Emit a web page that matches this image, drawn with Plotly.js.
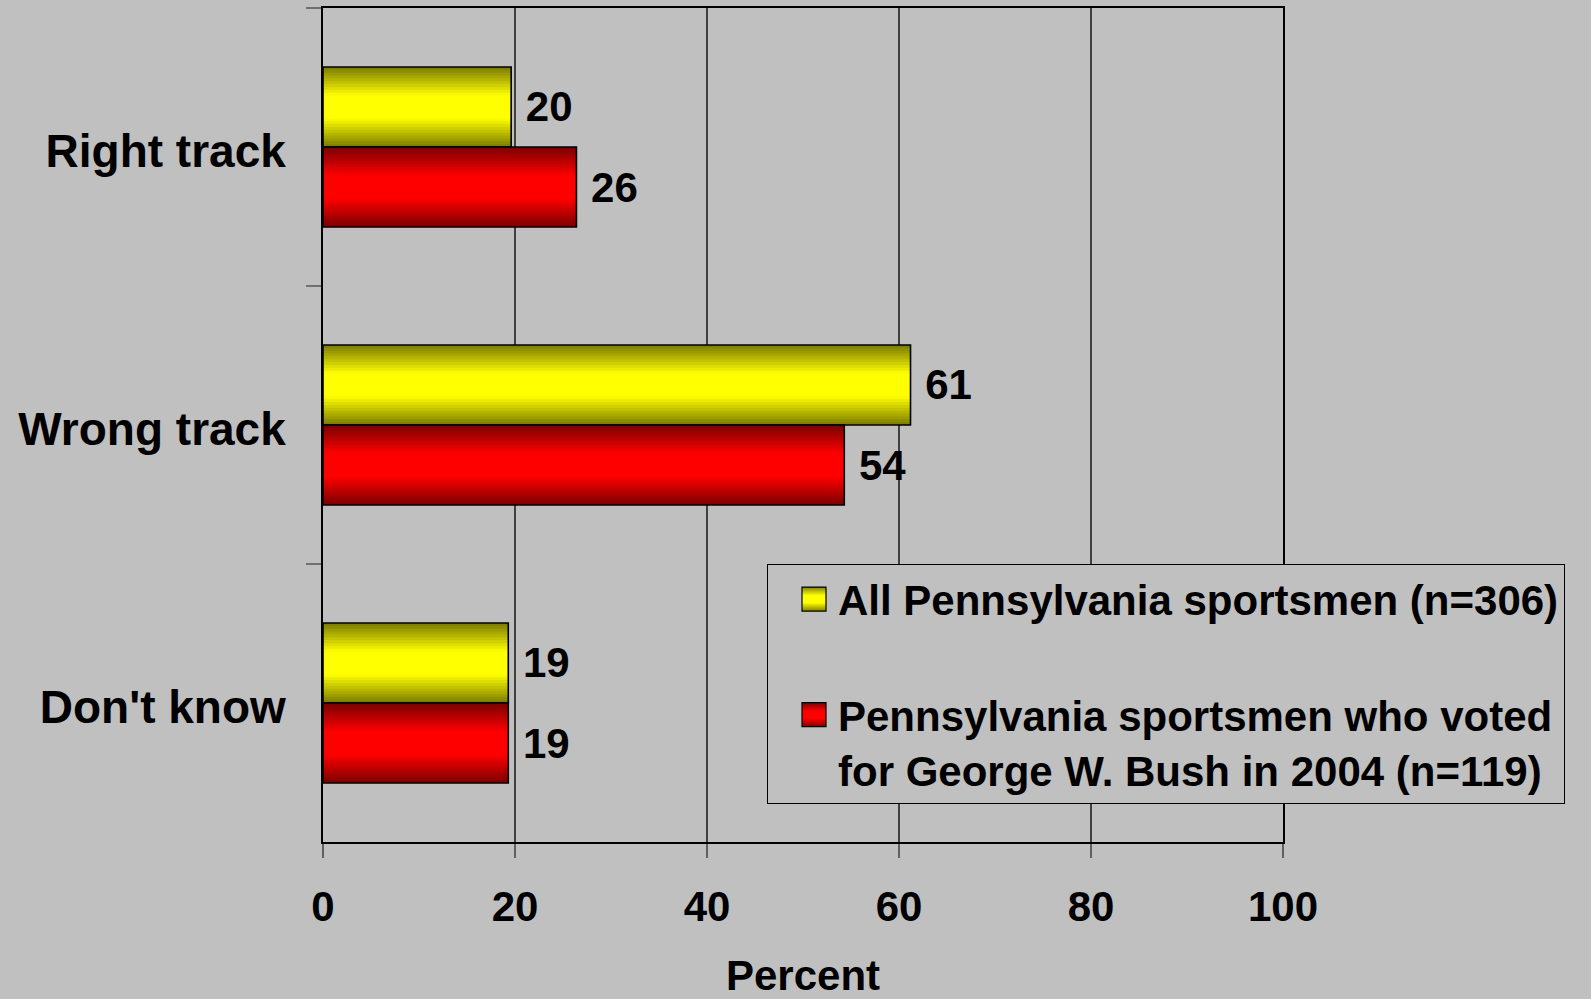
<!DOCTYPE html>
<html>
<head>
<meta charset="utf-8">
<script src="https://cdn.plot.ly/plotly-3.0.1.min.js"></script>
<style>
  html, body { margin: 0; padding: 0; background: #C0C0C0; }
  #chart { width: 1591px; height: 999px; }
</style>
</head>
<body>
<svg width="0" height="0" style="position:absolute">
  <defs>
    <linearGradient id="gradY" x1="0" y1="0" x2="0" y2="1">
      <stop offset="0" stop-color="#808000"/>
      <stop offset="0.35" stop-color="#ffff00"/>
      <stop offset="0.65" stop-color="#ffff00"/>
      <stop offset="1" stop-color="#808000"/>
    </linearGradient>
    <linearGradient id="gradR" x1="0" y1="0" x2="0" y2="1">
      <stop offset="0" stop-color="#800000"/>
      <stop offset="0.35" stop-color="#ff0000"/>
      <stop offset="0.65" stop-color="#ff0000"/>
      <stop offset="1" stop-color="#800000"/>
    </linearGradient>
  </defs>
</svg>
<div id="chart"></div>
<script>
// ---- data ----
const categories = ["Right track", "Wrong track", "Don't know"];
const allSportsmen = [19.6, 61.2, 19.3];
const bushVoters = [26.4, 54.3, 19.3];
const seriesNames = [
  "All Pennsylvania sportsmen (n=306)",
  "Pennsylvania sportsmen who voted<br>for George W. Bush in 2004 (n=119)"
];
const xTicks = [0, 20, 40, 60, 80, 100];

// ---- styling ----
const FONT = "Liberation Sans, Arial, sans-serif";
const BAR_W = 0.288;
const N_LAYERS = 14;
const series = [
  { values: allSportsmen, dark: [128, 128, 0], bright: [255, 255, 0], center: -BAR_W / 2, name: seriesNames[0] },
  { values: bushVoters, dark: [128, 0, 0], bright: [255, 0, 0], center: BAR_W / 2, name: seriesNames[1] }
];

const traces = [];
series.forEach((s, si) => {
  for (let k = 0; k < N_LAYERS; k++) {
    const w = BAR_W * (1 - k / N_LAYERS);
    const t = Math.min(1, k / (N_LAYERS * 0.68));
    const c = s.dark.map((d, i) => Math.round(d + (s.bright[i] - d) * t));
    traces.push({
      type: "bar", orientation: "h",
      x: s.values, y: categories,
      width: w, offset: s.center - w / 2,
      marker: { color: `rgb(${c[0]},${c[1]},${c[2]})`, line: { width: 0 } },
      showlegend: false, hoverinfo: "skip"
    });
  }
  // outline + labels
  traces.push({
    type: "bar", orientation: "h",
    x: s.values, y: categories,
    width: BAR_W, offset: s.center - BAR_W / 2,
    marker: { color: "rgba(0,0,0,0)", line: { color: "#000", width: 1.6 } },
    texttemplate: " %{x:.0f}",
    textposition: "outside",
    cliponaxis: false,
    constraintext: "none",
    textfont: { family: FONT, size: 42, color: "#000", weight: "bold" },
    name: s.name, legendgroup: "g" + si, showlegend: true
  });
});

const layout = {
  width: 1591, height: 999,
  paper_bgcolor: "#C0C0C0", plot_bgcolor: "#C0C0C0",
  margin: { l: 323, r: 308, t: 8, b: 157 },
  barmode: "overlay",
  font: { family: FONT, size: 42, color: "#000", weight: "bold" },
  xaxis: {
    range: [0, 100], tickvals: xTicks, ticktext: xTicks.map(String),
    showgrid: true, gridcolor: "#404040", gridwidth: 1.2,
    zeroline: false,
    showline: true, mirror: true, linecolor: "#000", linewidth: 2,
    ticks: "outside", ticklen: 14, tickcolor: "#606060", tickwidth: 1.2,
    ticklabelstandoff: 13,
    tickfont: { family: FONT, size: 42, color: "#000", weight: "bold" },
    title: { text: "Percent", font: { family: FONT, size: 42, color: "#000", weight: "bold" }, standoff: 34 },
    automargin: false, fixedrange: true
  },
  yaxis: {
    type: "category", categoryorder: "array", categoryarray: categories,
    range: [2.5, -0.5],
    showgrid: false, zeroline: false,
    showline: true, mirror: true, linecolor: "#000", linewidth: 2,
    ticks: "outside", tickson: "boundaries", ticklen: 15, tickcolor: "#707070", tickwidth: 1.5,
    ticklabelstandoff: 26, ticklabelshift: -4,
    tickfont: { family: FONT, size: 46, color: "#000", weight: "bold" },
    automargin: false, fixedrange: true
  },
  legend: {
    x: 0.4625, y: 0.333, xanchor: "left", yanchor: "top",
    bgcolor: "#C0C0C0", bordercolor: "#000", borderwidth: 1,
    font: { family: FONT, size: 42, color: "#000", weight: "bold" },
    traceorder: "grouped", tracegroupgap: 58, valign: "top",
    itemwidth: 60
  },
  showlegend: true
};

Plotly.newPlot("chart", traces, layout, { displayModeBar: false, staticPlot: true }).then(gd => {
  const grads = ["url(#gradY)", "url(#gradR)"];
  gd.querySelectorAll(".legend .traces").forEach((tr, i) => {
    tr.querySelectorAll(".legendpoints path").forEach(p => {
      p.setAttribute("d", "M23,12H-1V-12H23Z");
      p.style.fill = grads[i % 2];
      p.style.fillOpacity = "1";
      p.style.stroke = "#000";
      p.style.strokeOpacity = "1";
      p.style.strokeWidth = "1.2px";
    });
  });
});
</script>
</body>
</html>
